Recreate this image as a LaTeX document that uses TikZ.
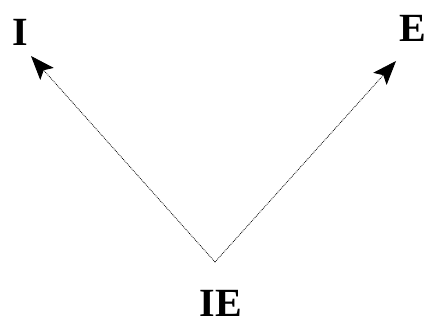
\documentclass[tikz,border=0pt]{standalone}
\usepackage{fontspec}
\setmainfont{Liberation Serif}
\usetikzlibrary{positioning,arrows.meta}
\tikzset{
  >={Stealth[length=24pt,width=18pt,inset=5pt]},
  lbl/.style = {font=\fontsize{40}{40}\selectfont\bfseries, inner sep=0pt},
  ea/.style  = {->, densely dotted, line width=0.8pt, draw=black},
}
\begin{document}
\begin{tikzpicture}[x=1pt,y=1pt]
  \useasboundingbox (0,0) rectangle (428,324);
  \node[lbl] (i)  at (20,292)  {I};
  \node[lbl] (e)  at (413,296) {E};
  \node[lbl] (ie) at (221,21)  {IE};
  \coordinate (apex) at (215,62);
  \coordinate (ti) at (31,268);
  \coordinate (te) at (396,263);
  \draw[ea] (apex)--(ti); \draw[ea] (apex)--(te);
\end{tikzpicture}
\end{document}
